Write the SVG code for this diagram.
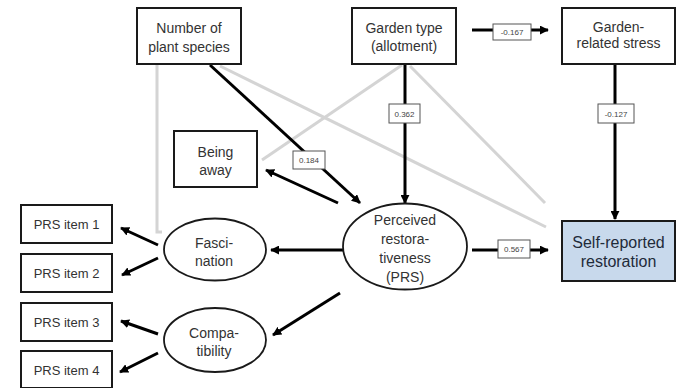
<svg xmlns="http://www.w3.org/2000/svg" width="677" height="388" viewBox="0 0 677 388">
<defs>
<marker id="ah" viewBox="0 0 10 10" refX="9" refY="5" markerWidth="3" markerHeight="3" orient="auto" markerUnits="strokeWidth">
<path d="M0,0 L10,5 L0,10 z" fill="#000"/>
</marker>
<style>
.box{fill:#fff;stroke:#1a1a1a;stroke-width:2}
.ell{fill:#fff;stroke:#1a1a1a;stroke-width:1.8}
.t{font-family:"Liberation Sans",Arial,sans-serif;font-size:14px;fill:#333;text-anchor:middle}
.ti{font-family:"Liberation Sans",Arial,sans-serif;font-size:13px;fill:#333;text-anchor:middle}
.tb{font-family:"Liberation Sans",Arial,sans-serif;font-size:16px;fill:#1f2b3a;text-anchor:middle}
.c{stroke:#000;stroke-width:3;fill:none}
.ca{stroke:#000;stroke-width:3;fill:none;marker-end:url(#ah)}
.g{stroke:#d4d4d4;stroke-width:3;fill:none}
.lb{fill:#fff;stroke:#555;stroke-width:1}
.lt{font-family:"Liberation Sans",Arial,sans-serif;font-size:8px;fill:#444;text-anchor:middle}
</style>
</defs>
<rect width="677" height="388" fill="#fff"/>
<g id="connectors">
<polyline class="g" points="157,64 157,232 162,232"/>
<line class="g" x1="220" y1="66" x2="546" y2="227"/>
<line class="g" x1="402" y1="65" x2="262" y2="160"/>
<line class="g" x1="410" y1="66" x2="545" y2="203"/>
<line class="ca" x1="472" y1="30" x2="548" y2="30"/>
<line class="ca" x1="405" y1="64" x2="405" y2="203"/>
<line class="ca" x1="615" y1="64" x2="615" y2="219"/>
<line class="ca" x1="210" y1="65" x2="360" y2="203"/>
<line class="ca" x1="338" y1="203" x2="266" y2="170"/>
<line class="ca" x1="343" y1="250" x2="271" y2="250"/>
<line class="ca" x1="340" y1="293" x2="273" y2="335"/>
<line class="ca" x1="472" y1="250" x2="548" y2="250"/>
<line class="ca" x1="158" y1="245" x2="121" y2="228"/>
<line class="ca" x1="158" y1="258" x2="122" y2="275"/>
<line class="ca" x1="158" y1="334" x2="121" y2="321"/>
<line class="ca" x1="158" y1="353" x2="120" y2="372"/>
<rect class="lb" x="493" y="24" width="38" height="16"/>
<text class="lt" x="512" y="35">-0.167</text>
<rect class="lb" x="389" y="104" width="31" height="19"/>
<text class="lt" x="404.5" y="116.5">0.362</text>
<rect class="lb" x="598" y="104" width="36" height="19"/>
<text class="lt" x="616" y="116.5">-0.127</text>
<rect class="lb" x="293" y="151" width="32" height="18"/>
<text class="lt" x="309" y="163">0.184</text>
<rect class="lb" x="498" y="240" width="32" height="18"/>
<text class="lt" x="514" y="252">0.567</text>
</g>
<g id="n-plants">
<rect class="box" x="137" y="8" width="104" height="56"/>
<text class="t" x="189" y="33">Number of</text>
<text class="t" x="189" y="52">plant species</text>
</g>
<g id="n-gardentype">
<rect class="box" x="352" y="8" width="104" height="56"/>
<text class="t" x="404" y="33">Garden type</text>
<text class="t" x="404" y="51">(allotment)</text>
</g>
<g id="n-stress">
<rect class="box" x="562" y="8" width="113" height="56"/>
<text class="t" x="618.5" y="32">Garden-</text>
<text class="t" x="618.5" y="48">related stress</text>
</g>
<g id="n-away">
<rect class="box" x="174" y="131" width="83" height="56"/>
<text class="t" x="215.5" y="157">Being</text>
<text class="t" x="215.5" y="175">away</text>
</g>
<g id="n-prs">
<ellipse class="ell" cx="405" cy="246.5" rx="62" ry="43"/>
<text class="t" x="405" y="225">Perceived</text>
<text class="t" x="405" y="244">restora-</text>
<text class="t" x="405" y="263">tiveness</text>
<text class="t" x="405" y="282">(PRS)</text>
</g>
<g id="n-self">
<rect x="562" y="221" width="113" height="60" fill="#c8d9ec" stroke="#1a1a1a" stroke-width="2"/>
<text class="tb" x="618.5" y="248">Self-reported</text>
<text class="tb" x="618.5" y="267">restoration</text>
</g>
<g id="n-fasc">
<ellipse class="ell" cx="215" cy="249.5" rx="51" ry="31"/>
<text class="t" x="214" y="248">Fasci-</text>
<text class="t" x="214" y="266">nation</text>
</g>
<g id="n-compat">
<ellipse class="ell" cx="215" cy="340" rx="51" ry="32"/>
<text class="t" x="214" y="338">Compa-</text>
<text class="t" x="214" y="356">tibility</text>
</g>
<g id="n-item1">
<rect class="box" x="21" y="205" width="91" height="38"/>
<text class="ti" x="66.5" y="228.5">PRS item 1</text>
</g>
<g id="n-item2">
<rect class="box" x="21" y="254" width="91" height="38"/>
<text class="ti" x="66.5" y="277.5">PRS item 2</text>
</g>
<g id="n-item3">
<rect class="box" x="21" y="303" width="91" height="38"/>
<text class="ti" x="66.5" y="326.5">PRS item 3</text>
</g>
<g id="n-item4">
<rect class="box" x="21" y="351" width="91" height="37"/>
<text class="ti" x="66.5" y="374.5">PRS item 4</text>
</g>
</svg>
